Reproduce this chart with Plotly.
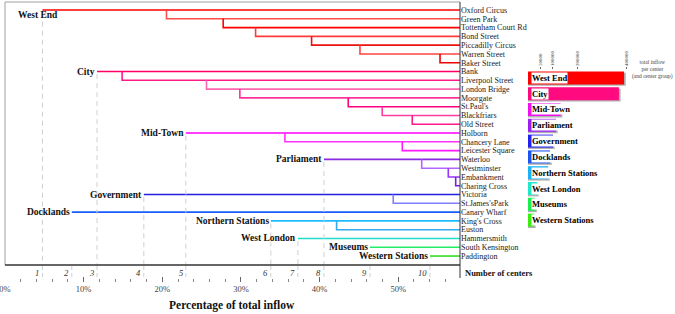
import plotly.graph_objects as go

# ---------------- data ----------------
stations = ["Oxford Circus", "Green Park", "Tottenham Court Rd", "Bond Street", "Piccadilly Circus",
            "Warren Street", "Baker Street", "Bank", "Liverpool Street", "London Bridge", "Moorgate",
            "St.Paul's", "Blackfriars", "Old Street", "Holborn", "Chancery Lane", "Leicester Square",
            "Waterloo", "Westminster", "Embankment", "Charing Cross", "Victoria", "St.James'sPark",
            "Canary Wharf", "King's Cross", "Euston", "Hammersmith", "South Kensington", "Paddington"]
station_group = (["West End"] * 7 + ["City"] * 7 + ["Mid-Town"] * 3 + ["Parliament"] * 4 +
                 ["Government"] * 2 + ["Docklands"] + ["Northern Stations"] * 2 + ["West London"] +
                 ["Museums"] + ["Western Stations"])
# percentage of total inflow at which each station joins (branch position)
branch_pct = [4.76, 20.53, 27.74, 31.86, 38.98, 45.13, 55.31,
              11.70, 14.89, 25.62, 29.86, 43.64, 47.96, 51.78,
              22.99, 35.59, 50.51,
              40.55, 52.98, 56.36, 57.30,
              17.65, 49.36,
              8.49,
              33.80, 42.16,
              37.24,
              46.40,
              54.03]

group_names = ["West End", "City", "Mid-Town", "Parliament", "Government", "Docklands",
               "Northern Stations", "West London", "Museums", "Western Stations"]
group_centers_number = [1, 3, 5, 8, 4, 2, 6, 7, 9, 10]
group_inflow = [392000, 371000, 133000, 114000, 102000, 90000, 82000, 37000, 29000, 24000]
bar_ticks = [50000, 100000, 200000, 400000]
pct_ticks = [0, 10, 20, 30, 40, 50]

# ---------------- styles ----------------
group_colors = ["#ff0000", "#ff0a7f", "#f010f0", "#9a1ff0", "#2222f0", "#1a55f0",
                "#18b4f5", "#20e8c8", "#18ee50", "#3aee10"]
station_colors = ["#ff0000", "#ff4d4d", "#ff0000", "#ff3a3a", "#ee1111", "#ff4444", "#ee0000",
                  "#ff0066", "#ff1a8c", "#ff66b2", "#ff3399", "#ff0080", "#ff3d9e", "#ff1a8c",
                  "#ff00ff", "#ff33ff", "#ff1aff",
                  "#8a2be2", "#b266ff", "#9933ff", "#7a1fe0",
                  "#2020e0", "#7f7fff",
                  "#1a5cff",
                  "#22bbff", "#33aaee",
                  "#22ddcc",
                  "#22ee66",
                  "#33dd22"]

W, H = 675, 314
def px(p):
    return p / W
def py(p):
    return 1 - p / H

SERIF = "Liberation Serif"
XMAX = 57.85

fig = go.Figure()

# dendrogram lines
for i, name in enumerate(stations):
    b = branch_pct[i]
    first = (i == 0) or (station_group[i - 1] != station_group[i])
    if first:
        xs, ys = [b, XMAX], [i, i]
    else:
        xs, ys = [b, b, XMAX], [i - 1, i, i]
    fig.add_trace(go.Scatter(x=xs, y=ys, mode="lines", line=dict(color=station_colors[i], width=1.6),
                             hoverinfo="skip", showlegend=False, xaxis="x", yaxis="y"))

annotations = []
shapes = []

# group labels and dashed guides
heads = {}
for i, g in enumerate(station_group):
    if g not in heads:
        heads[g] = i
for gi, g in enumerate(group_names):
    r = heads[g]
    x0 = branch_pct[r]
    if g == "West End":
        annotations.append(dict(x=x0 - 0.55, y=r + 0.62, xref="x", yref="y", text="<b>%s</b>" % g,
                                showarrow=False, xanchor="center", yanchor="middle",
                                font=dict(family=SERIF, size=9.5, color="#111")))
    else:
        annotations.append(dict(x=x0, y=r, xref="x", yref="y", text="<b>%s</b>" % g,
                                showarrow=False, xanchor="right", yanchor="middle",
                                font=dict(family=SERIF, size=9.5, color="#111")))
    # dashed guide from the group line down to the axis
    if g not in ("Docklands", "Museums", "Western Stations"):
        shapes.append(dict(type="line", xref="x", yref="y", x0=x0, x1=x0, y0=r + 0.3, y1=29.02,
                           line=dict(color="#cfcfcf", width=1, dash="5px,4px")))
    shapes.append(dict(type="line", xref="x", yref="paper", x0=x0, x1=x0, y0=py(266), y1=py(277),
                       line=dict(color="#cfcfcf", width=1, dash="4px,3px")))
    # number of centers
    annotations.append(dict(x=x0, y=py(273), xref="x", yref="paper",
                            text="<i>%d</i>" % group_centers_number[gi], showarrow=False,
                            xanchor="right", yanchor="middle", xshift=-1,
                            font=dict(family=SERIF, size=8.5, color="#333")))

annotations.append(dict(x=px(463), y=py(273), xref="paper", yref="paper", text="<b>Number of centers</b>",
                        showarrow=False, xanchor="left", yanchor="middle",
                        font=dict(family=SERIF, size=8.5, color="#111")))
annotations.append(dict(x=px(232), y=py(305), xref="paper", yref="paper", text="<b>Percentage of total inflow</b>",
                        showarrow=False, xanchor="center", yanchor="middle",
                        font=dict(family=SERIF, size=11.5, color="#111")))

# frame lines
shapes += [
    dict(type="line", xref="paper", yref="paper", x0=px(5), x1=px(460), y0=py(2), y1=py(2),
         line=dict(color="#a0a0a0", width=1)),
    dict(type="line", xref="paper", yref="paper", x0=px(5), x1=px(5), y0=py(2), y1=py(265),
         line=dict(color="#a0a0a0", width=1)),
    dict(type="line", xref="paper", yref="paper", x0=px(5), x1=px(460), y0=py(265), y1=py(265),
         line=dict(color="#333", width=1.5)),
    dict(type="line", xref="paper", yref="paper", x0=px(460), x1=px(460), y0=py(2), y1=py(278),
         line=dict(color="#333", width=1)),
]

# ---------------- inset bar chart ----------------
yb = list(range(len(group_names)))
fig.add_trace(go.Bar(y=yb, x=[v + 7000 for v in group_inflow], orientation="h", width=0.82,
                     offset=-0.41 + 0.09, marker=dict(color="#b0b0b0", line=dict(width=0)),
                     hoverinfo="skip", showlegend=False, xaxis="x2", yaxis="y2"))
fig.add_trace(go.Bar(y=yb, x=group_inflow, orientation="h", width=0.82, offset=-0.41,
                     marker=dict(color=group_colors, line=dict(width=0)),
                     hoverinfo="skip", showlegend=False, xaxis="x2", yaxis="y2"))
for i, g in enumerate(group_names):
    annotations.append(dict(x=0, y=i, xref="x2", yref="y2", text="<b>%s</b>" % g, showarrow=False,
                            xanchor="left", yanchor="middle", xshift=3, bgcolor="white", borderpad=0,
                            font=dict(family=SERIF, size=8.5, color="#000")))
annotations.append(dict(x=px(652), y=py(69), xref="paper", yref="paper",
                        text="total inflow<br>per center<br>(and center group)", showarrow=False,
                        xanchor="center", yanchor="middle", align="center",
                        font=dict(family=SERIF, size=5.5, color="#444")))

fig.update_layout(
    width=W, height=H, margin=dict(l=0, r=0, t=0, b=0, autoexpand=False),
    paper_bgcolor="white", plot_bgcolor="rgba(0,0,0,0)",
    barmode="overlay", showlegend=False,
    xaxis=dict(domain=[px(5), px(460)], range=[0, XMAX], anchor="free", position=py(282),
               automargin=False,
               showgrid=False, zeroline=False, showline=False,
               tickvals=pct_ticks, ticktext=["%d%%" % t for t in pct_ticks],
               ticks="inside", ticklen=5, tickcolor="#666", tickwidth=1,
               ticklabeloverflow="allow",
               minor=dict(dtick=2, tick0=0, ticks="inside", ticklen=3, tickcolor="#888"),
               tickfont=dict(family=SERIF, size=8.5, color="#444")),
    yaxis=dict(domain=[py(265), py(3)], range=[29.02, -0.8], anchor="x", side="right",
               automargin=False,
               showgrid=False, zeroline=False, showline=False, ticks="",
               tickvals=list(range(len(stations))), ticktext=stations,
               tickfont=dict(family=SERIF, size=8, color="#222")),
    xaxis2=dict(domain=[px(528), px(640)], range=[0, 400000 * 112 / 98], anchor="y2", side="top",
                automargin=False,
                showgrid=False, zeroline=False, showline=False,
                tickvals=bar_ticks, ticktext=[str(t) for t in bar_ticks], tickangle=-90,
                ticks="outside", ticklen=2, tickcolor="#666",
                tickfont=dict(family=SERIF, size=5, color="#333")),
    yaxis2=dict(domain=[py(228), py(70)], range=[9.5, -0.5], anchor="x2", automargin=False,
                showgrid=False, zeroline=False, showline=False, showticklabels=False, ticks=""),
    annotations=annotations, shapes=shapes,
)

fig.write_html("out.html", config={"displayModeBar": False},
               post_script="document.body.style.margin='0px';document.body.style.padding='0px';")
